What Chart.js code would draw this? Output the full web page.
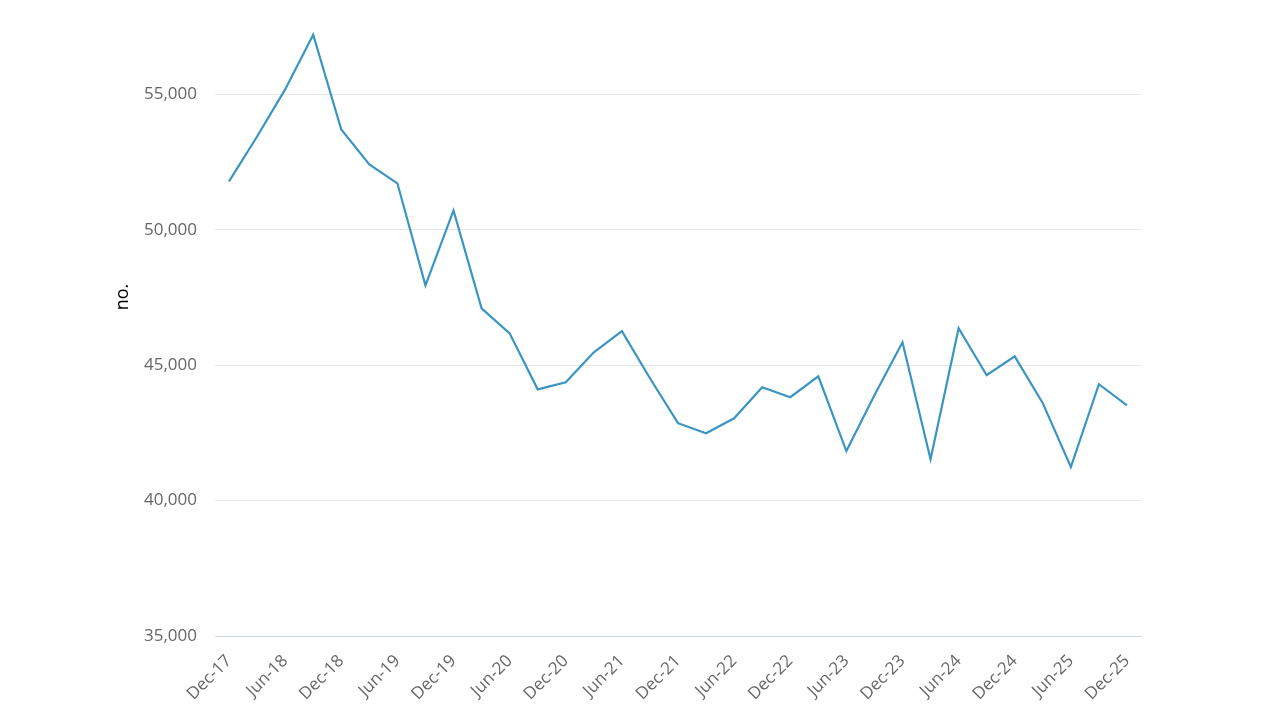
<!DOCTYPE html>
<html lang="en">

<head>
    <meta charset="UTF-8">
    <title>no. by quarter</title>
    <script src="https://cdn.jsdelivr.net/npm/chart.js"></script>
    <style>
        html, body {
            margin: 0;
            padding: 0;
            background: #ffffff;
        }

        #wrap {
            width: 1280px;
            height: 720px;
        }
    </style>
</head>

<body>
    <div id="wrap">
        <canvas id="lineChart" width="1280" height="720"></canvas>
    </div>

    <script>
        // Quarterly periods, Dec-17 to Dec-25
        const quarters = [
            'Dec-17', 'Mar-18', 'Jun-18', 'Sep-18', 'Dec-18', 'Mar-19', 'Jun-19', 'Sep-19',
            'Dec-19', 'Mar-20', 'Jun-20', 'Sep-20', 'Dec-20', 'Mar-21', 'Jun-21', 'Sep-21',
            'Dec-21', 'Mar-22', 'Jun-22', 'Sep-22', 'Dec-22', 'Mar-23', 'Jun-23', 'Sep-23',
            'Dec-23', 'Mar-24', 'Jun-24', 'Sep-24', 'Dec-24', 'Mar-25', 'Jun-25', 'Sep-25',
            'Dec-25'
        ];

        // Values
        const counts = [
            51790, 53450, 55190, 57210, 53710, 52420, 51720, 47950,
            50720, 47100, 46180, 44110, 44370, 45480, 46260, 44520,
            42860, 42490, 43040, 44190, 43820, 44590, 41830, 43890,
            45850, 41530, 46370, 44630, 45330, 43600, 41240, 44300,
            43520
        ];

        const yTicks = [35000, 40000, 45000, 50000, 55000];
        const yTitle = 'no.';

        // Draws the rotated y axis title a bit above the middle, as in the original
        const yTitlePlugin = {
            id: 'yTitle',
            afterDraw(chart) {
                const c = chart.ctx;
                c.save();
                c.translate(123, 297);
                c.rotate(-Math.PI / 2);
                c.fillStyle = '#000000';
                c.font = '18px "Open Sans"';
                c.textAlign = 'center';
                c.textBaseline = 'middle';
                c.fillText(yTitle, 0, 0);
                c.restore();
            }
        };

        const ctx = document.getElementById('lineChart').getContext('2d');
        new Chart(ctx, {
            type: 'line',
            data: {
                labels: quarters,
                datasets: [{
                    data: counts,
                    borderColor: '#3a95c3',
                    borderWidth: 2.2,
                    pointRadius: 0,
                    tension: 0,
                    fill: false
                }]
            },
            options: {
                responsive: false,
                animation: false,
                layout: { padding: { left: 108, right: 139, top: 14, bottom: 0 } },
                plugins: {
                    legend: { display: false },
                    tooltip: { enabled: false }
                },
                scales: {
                    x: {
                        offset: true,
                        grid: { display: false, drawTicks: false },
                        border: { display: true, color: '#ccd6eb', width: 1 },
                        ticks: {
                            autoSkip: false,
                            minRotation: 45,
                            maxRotation: 45,
                            padding: 15,
                            color: '#666666',
                            font: { family: 'Open Sans', size: 17 },
                            callback: function (val, i) {
                                return i % 2 === 0 ? quarters[i] : '';
                            }
                        },
                        afterFit: function (scale) { scale.height = 84; }
                    },
                    y: {
                        min: 35000,
                        max: 57450,
                        grid: {
                            drawTicks: false,
                            color: function (c) {
                                return c.tick && c.tick.value === 35000 ? '#ccd6eb' : '#e6e6e6';
                            }
                        },
                        border: { display: false },
                        afterBuildTicks: function (scale) {
                            scale.ticks = yTicks.map(v => ({ value: v }));
                        },
                        ticks: {
                            padding: 18,
                            color: '#666666',
                            font: { family: 'Open Sans', size: 17 },
                            callback: v => v.toLocaleString('en-US')
                        },
                        afterFit: function (scale) { scale.width = 107; }
                    }
                }
            },
            plugins: [yTitlePlugin]
        });
    </script>
</body>

</html>
